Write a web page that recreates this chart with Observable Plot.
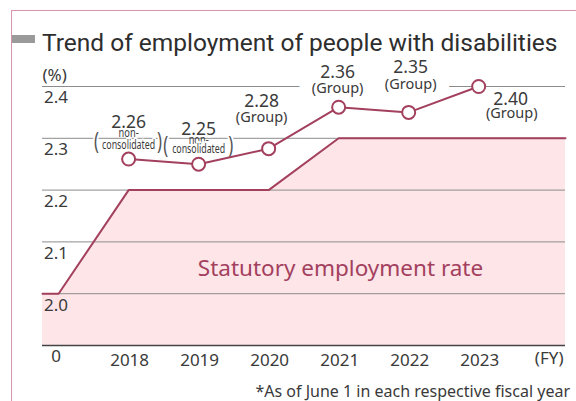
<!DOCTYPE html>
<html>
<head>
<meta charset="utf-8">
<script src="https://cdn.jsdelivr.net/npm/d3@7"></script>
<script src="https://cdn.jsdelivr.net/npm/@observablehq/plot@0.6"></script>
<style>
  html, body { margin: 0; padding: 0; background: #fff; }
  body { width: 576px; height: 401px; overflow: hidden; position: relative; font-family: "Noto Sans", sans-serif; color: #3a3a3a; }
  #frame { position: absolute; left: 11px; top: 10px; width: 600px; height: 420px; border-top: 1.5px solid #d595aa; border-left: 1.5px solid #d595aa; box-sizing: border-box; }
  #bar { position: absolute; left: 12px; top: 35px; width: 23px; height: 8px; background: #9a9a9a; }
  #title { position: absolute; left: 42px; top: 31px; font-family: Roboto, "Noto Sans", sans-serif; font-size: 24.5px; line-height: 24.5px; white-space: nowrap; color: #2e2e2e; }
  #chart { position: absolute; left: 0; top: 60px; }
  #note { position: absolute; right: 6px; top: 382px; font-size: 16px; line-height: 18px; white-space: nowrap; color: #3a3a3a; }
</style>
</head>
<body>
<div id="frame"></div>
<div id="bar"></div>
<div id="title">Trend of employment of people with disabilities</div>
<div id="chart"></div>
<div id="note">*As of June 1 in each respective fiscal year</div>
<script>
// ---- data ----
const years = [2018, 2019, 2020, 2021, 2022, 2023];
const rates = [2.26, 2.25, 2.28, 2.36, 2.35, 2.40];
const rateLabels = ["2.26", "2.25", "2.28", "2.36", "2.35", "2.40"];
const scopes = ["non-consolidated", "non-consolidated", "Group", "Group", "Group", "Group"];
const statutoryYears = [2016.77, 2017, 2018, 2020, 2021, 2024.24];
const statutoryRates = [2.0, 2.0, 2.2, 2.2, 2.3, 2.3];
const yTicks = [1.9, 2.0, 2.1, 2.2, 2.3, 2.4];
const yTickLabels = ["0", "2.0", "2.1", "2.2", "2.3", "2.4"];
const xTickLabels = ["2018", "2019", "2020", "2021", "2022", "2023"];
const xDomain = [2016.77, 2024.24];

// ---- layout (pixel offsets of the value labels) ----
const numOffsets = [[0, -37], [0, -35], [-7, -47], [-1, -35], [2, -45], [32, 13]];
const scopeOffsets = [[0, -26.5], [0, -24.5], [-7, -31], [-1, -19], [2, -28], [33, 27]];
const scopeHalo = [3, 3, 8, 26, 26, 8];
const consOffsets = [[0, -14], [0, -15.5]];
const parenOffsets = [[-32, 31, -17.5], [-33, 32, -18.5]];

const C = "#a3405e";
const TXT = "#3a3a3a";

const pts = years.map((year, i) => ({year, rate: rates[i], label: rateLabels[i], scope: scopes[i]}));
const stat = statutoryYears.map((year, i) => ({year, rate: statutoryRates[i]}));

const groupMarks = pts.flatMap((p, i) => p.scope !== "Group" ? [] : [
  Plot.text([p], {x: "year", y: "rate", text: d => "(" + d.scope + ")", dx: scopeOffsets[i][0], dy: scopeOffsets[i][1],
    fontSize: 14.5, fill: TXT, stroke: "white", strokeWidth: scopeHalo[i], lineAnchor: "middle"})
]);
const numberMarks = pts.map((p, i) =>
  Plot.text([p], {x: "year", y: "rate", text: "label", dx: numOffsets[i][0], dy: numOffsets[i][1],
    fontSize: 17.5, fill: TXT, stroke: "white", strokeWidth: 5, lineAnchor: "middle"}));
const nonConsMarks = pts.flatMap((p, i) => p.scope === "Group" ? [] : [
  Plot.text([p], {x: "year", y: "rate", text: d => "(", dx: parenOffsets[i][0], dy: parenOffsets[i][2],
    fontSize: 23, fill: "#555", stroke: "white", strokeWidth: 5, lineAnchor: "middle"}),
  Plot.text([p], {x: "year", y: "rate", text: d => ")", dx: parenOffsets[i][1], dy: parenOffsets[i][2],
    fontSize: 23, fill: "#555", stroke: "white", strokeWidth: 5, lineAnchor: "middle"}),
  Plot.text([p], {x: "year", y: "rate", text: d => "non-", dx: scopeOffsets[i][0], dy: scopeOffsets[i][1],
    fontSize: 13, fill: TXT, lineAnchor: "middle"}),
  Plot.text([p], {x: "year", y: "rate", text: d => "consolidated", dx: consOffsets[i][0], dy: consOffsets[i][1],
    fontSize: 13, fill: TXT, stroke: "white", strokeWidth: 4, lineAnchor: "middle"})
]);

const chart = Plot.plot({
  width: 576,
  height: 315,
  marginLeft: 42,
  marginRight: 11,
  marginTop: 26,
  marginBottom: 30,
  x: {domain: xDomain, axis: null},
  y: {domain: [1.9, 2.4], axis: null},
  style: {fontFamily: "'Noto Sans', sans-serif", background: "transparent", overflow: "visible"},
  marks: [
    Plot.areaY(stat, {x: "year", y1: 1.9, y2: "rate", fill: "#fde5e8"}),
    Plot.ruleY(yTicks.slice(1), {stroke: "#8c8c8c", strokeWidth: 1}),
    Plot.ruleY([yTicks[0]], {stroke: "#444", strokeWidth: 1.5}),
    Plot.line(stat, {x: "year", y: "rate", stroke: C, strokeWidth: 2}),
    ...groupMarks,
    ...numberMarks,
    ...nonConsMarks,
    Plot.line(pts, {x: "year", y: "rate", stroke: C, strokeWidth: 2}),
    Plot.dot(pts, {x: "year", y: "rate", r: 6.5, fill: "white", stroke: C, strokeWidth: 2}),
    Plot.text(yTicks, {y: d => d, text: (d, i) => yTickLabels[i], frameAnchor: "left", textAnchor: "middle",
      lineAnchor: "middle", dx: 13.5, dy: 11.5, fontSize: 17, fill: TXT}),
    Plot.text(years, {x: d => d, text: (d, i) => xTickLabels[i], frameAnchor: "bottom", lineAnchor: "middle",
      dx: 1, dy: 15, fontSize: 17, fill: TXT}),
    Plot.text(["(FY)"], {frameAnchor: "bottom-right", textAnchor: "end", lineAnchor: "middle", dx: -2, dy: 13, fontSize: 17, fill: TXT}),
    Plot.text(["(%)"], {frameAnchor: "top-left", textAnchor: "start", lineAnchor: "middle", dy: -11, fontSize: 17, fill: TXT}),
    Plot.text(["Statutory employment rate"], {frameAnchor: "middle", lineAnchor: "middle", dx: 36.5, dy: 52.5, fontSize: 22.5, fill: C})
  ]
});

d3.select(chart).selectAll("text").each(function() {
  const t = this.textContent;
  const fit = {"consolidated": 53, "non-": 20, "(": 5, ")": 5}[t];
  if (fit) { this.setAttribute("textLength", fit); this.setAttribute("lengthAdjust", "spacingAndGlyphs"); }
});

document.getElementById("chart").appendChild(chart);
</script>
</body>
</html>
